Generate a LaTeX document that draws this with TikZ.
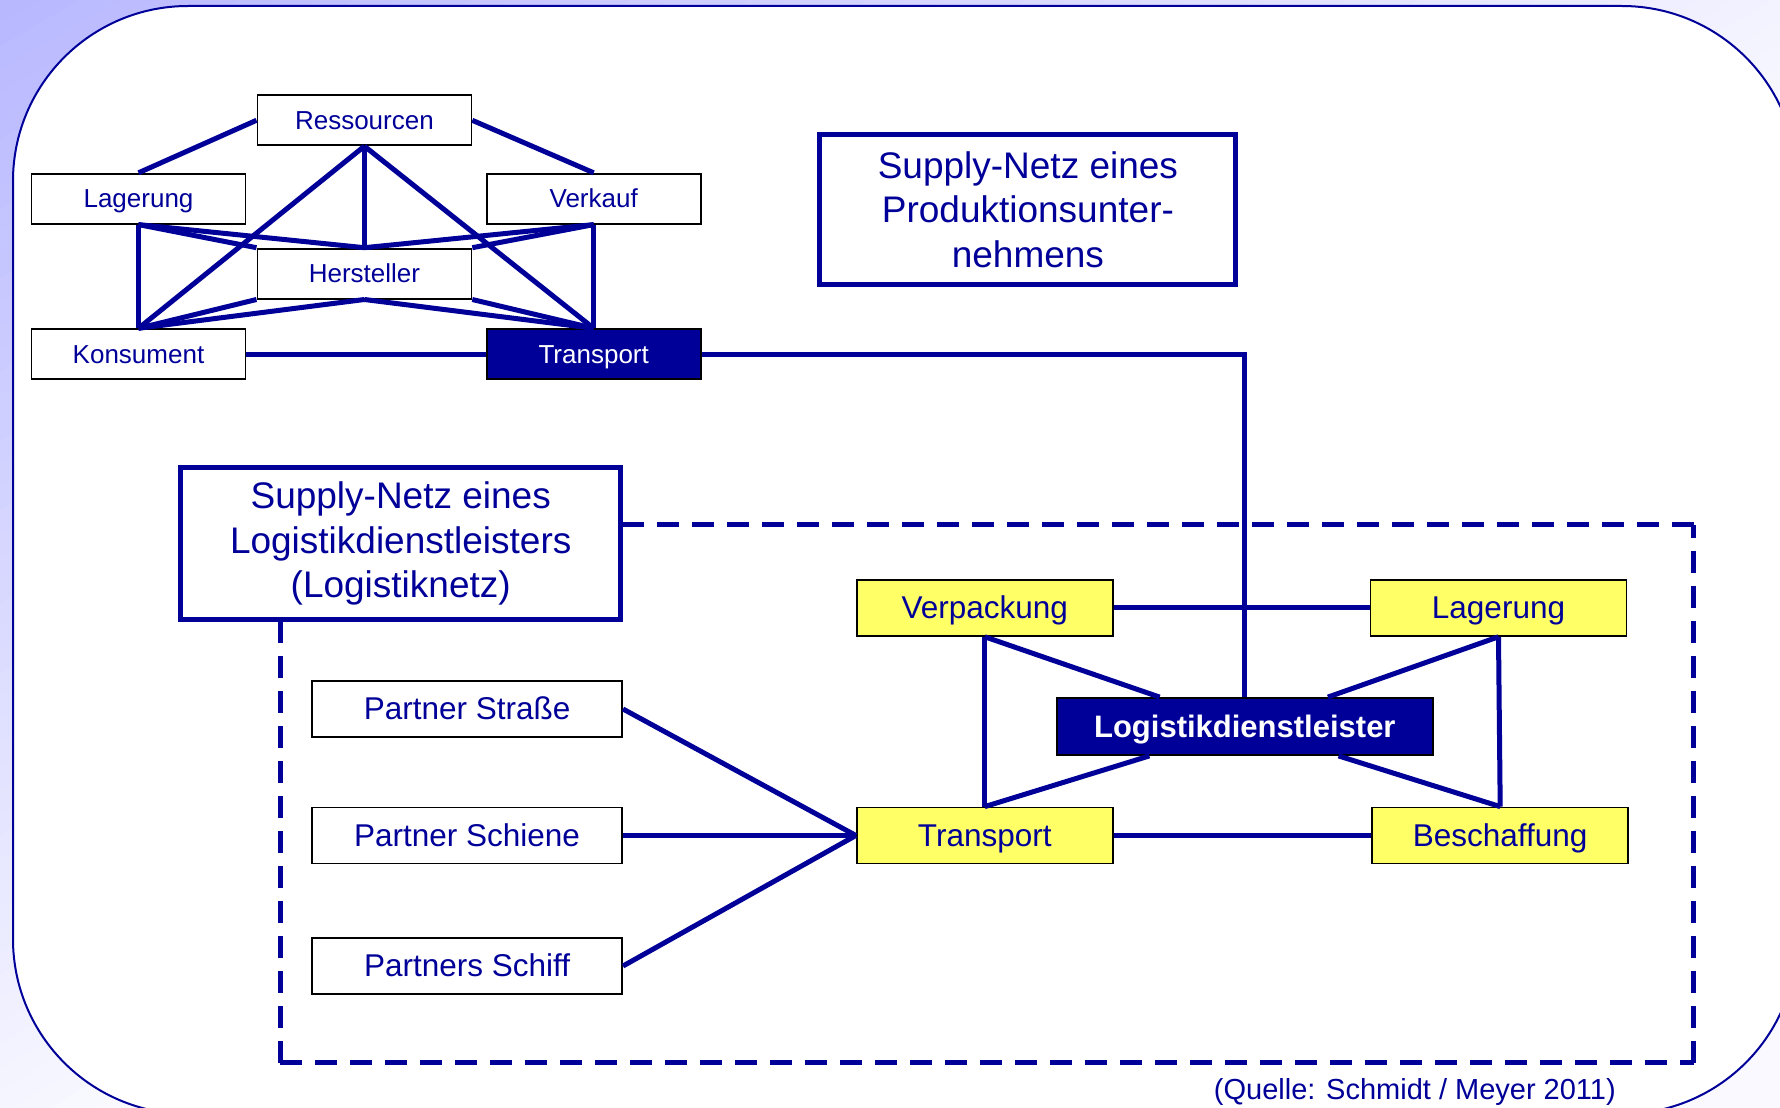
\documentclass[tikz,border=0pt]{standalone}
\usepackage{fontspec}
\setmainfont{Liberation Sans}
\definecolor{navy}{RGB}{0,0,153}
\definecolor{yel}{RGB}{255,255,102}
\definecolor{lav}{RGB}{184,184,255}
\definecolor{bgend}{RGB}{249,249,255}
\begin{document}
\begin{tikzpicture}[x=1pt,y=-1pt,
  conn/.style={draw=navy, line width=5pt},
  sbox/.style={draw=black, line width=1.8pt, fill=white, text=navy,
    minimum width=214pt, minimum height=50pt, inner sep=0pt,
    font=\fontsize{26}{31}\selectfont, text height=23.5pt, text depth=5.5pt},
  dbox/.style={sbox, fill=navy, text=white},
  mbox/.style={draw=black, line width=1.8pt, fill=white, text=navy,
    minimum width=256pt, minimum height=56pt, inner sep=0pt,
    font=\fontsize{31.5}{37}\selectfont, text height=28.5pt, text depth=6.7pt},
  ybox/.style={mbox, fill=yel},
  pbox/.style={mbox, minimum width=310pt},
  lbox/.style={mbox, fill=navy, text=white, minimum width=376pt, minimum height=57pt,
    font=\fontsize{31}{37}\selectfont\bfseries},
  tbox/.style={draw=navy, line width=5pt, fill=white, text=navy, align=center,
    inner sep=0pt, font=\fontsize{37}{44.5}\selectfont},
  dline/.style={draw=navy, line width=5pt, dash pattern=on 22pt off 13pt}]
\useasboundingbox (0,0) rectangle (1780,1108);

% background: diagonal lavender gradient
\begin{scope}
  \clip (0,0) rectangle (1780,1108);
  \fill[bgend] (0,0) rectangle (1780,1108);
  \foreach \i in {0,...,49}{
    \pgfmathsetmacro\ua{20*\i}
    \pgfmathsetmacro\ub{20*\i+21}
    \pgfmathtruncatemacro\p{100-2*\i}
    \fill[lav!\p!bgend]
      ({\ua*0.5075-700*0.8616},{\ua*0.8616+700*0.5075}) --
      ({\ua*0.5075+1700*0.8616},{\ua*0.8616-1700*0.5075}) --
      ({\ub*0.5075+1700*0.8616},{\ub*0.8616-1700*0.5075}) --
      ({\ub*0.5075-700*0.8616},{\ub*0.8616+700*0.5075}) -- cycle;
  }
\end{scope}

% slide frame
\draw[navy, line width=2pt, fill=white, rounded corners=175pt] (13,6) rectangle (1797,1114);

% dashed frame of the logistics network
\coordinate (dtl) at (280.4,524.5);
\coordinate (dtr) at (1693.7,524.5);
\coordinate (dbr) at (1693.7,1062.5);
\coordinate (dbl) at (280.4,1062.5);
\draw[dline] (dbl) -- (dbr);
\draw[dline] (dbr) -- (dtr);
\draw[dline] (dtr) -- (dtl);
\draw[dline] (dbl) -- (dtl);

% production supply network
\node[sbox] (res) at (364.4,120.3) {Ressourcen};
\node[sbox] (lag1) at (138.5,198.7) {Lagerung};
\node[sbox] (ver) at (593.7,198.7) {Verkauf};
\node[sbox] (her) at (364.4,273.6) {Hersteller};
\node[sbox] (kon) at (138.5,354.2) {Konsument};
\node[dbox] (tr1) at (593.7,354.2) {Transport};

\node[tbox, minimum width=416pt, minimum height=150pt] (t1) at (1027.9,209.5)
  {Supply-Netz eines\\Produktionsunter-\\nehmens};
\node[tbox, minimum width=440pt, minimum height=152pt] (t2) at (400.7,543.8)
  {Supply-Netz eines\\Logistikdienstleisters\\(Logistiknetz)};

% logistics network
\node[ybox] (verp) at (984.8,607.9) {Verpackung};
\node[ybox] (lag2) at (1498.5,607.9) {Lagerung};
\node[lbox] (logi) at (1244.8,726.5) {Logistikdienstleister};
\node[ybox] (tr2) at (984.8,835.5) {Transport};
\node[ybox] (besch) at (1500.2,835.5) {Beschaffung};
\node[pbox] (pstr) at (467.1,709) {Partner Straße};
\node[pbox] (psch) at (467.1,835.5) {Partner Schiene};
\node[pbox] (pship) at (467.1,966) {Partners Schiff};

\node[anchor=base east, inner sep=0pt, text=navy, font=\fontsize{29}{34}\selectfont]
  (src) at (1616,1099) {(Quelle: Schmidt / Meyer 2011)};

% connectors, production network
\draw[conn] (res.west) -- (lag1.north);
\draw[conn] (res.east) -- (ver.north);
\draw[conn] (res.south) -- (her.north);
\draw[conn] (res.south) -- (kon.north);
\draw[conn] (res.south) -- (tr1.north);
\draw[conn] (lag1.south) -- (kon.north);
\draw[conn] (ver.south) -- (tr1.north);
\draw[conn] (lag1.south) -- (her.north west);
\draw[conn] (lag1.south) -- (her.north);
\draw[conn] (ver.south) -- (her.north east);
\draw[conn] (ver.south) -- (her.north);
\draw[conn] (kon.north) -- (her.south west);
\draw[conn] (kon.north) -- (her.south);
\draw[conn] (tr1.north) -- (her.south east);
\draw[conn] (tr1.north) -- (her.south);
\draw[conn] (kon.east) -- (tr1.west);
\draw[conn] (tr1.east) -| (logi.north);

% connectors, logistics network
\draw[conn] (verp.east) -- (lag2.west);
\draw[conn] (verp.south) -- (tr2.north);
\draw[conn] (lag2.south) -- (besch.north);
\draw[conn] (tr2.east) -- (besch.west);
\draw[conn] (verp.south) -- (logi);
\draw[conn] (lag2.south) -- (logi);
\draw[conn] (tr2.north) -- (logi);
\draw[conn] (besch.north) -- (logi);
\draw[conn] (pstr.east) -- (tr2.west);
\draw[conn] (psch.east) -- (tr2.west);
\draw[conn] (pship.east) -- (tr2.west);
\end{tikzpicture}
\end{document}
